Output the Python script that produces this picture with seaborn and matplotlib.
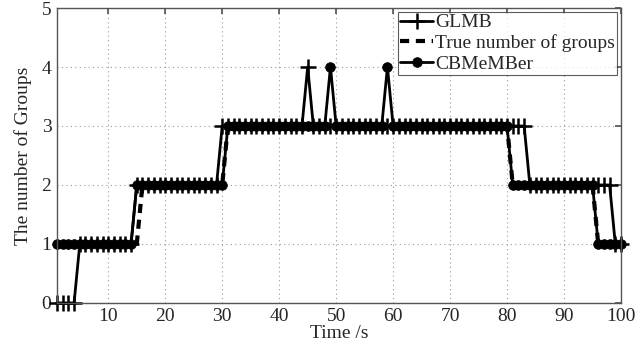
import numpy as np
import pandas as pd
import matplotlib
matplotlib.use("Agg")
import matplotlib.pyplot as plt
import seaborn as sns

# Data
time = list(range(1, 101))

glmb = [0, 0, 0, 0,
        1, 1, 1, 1, 1, 1, 1, 1, 1, 1,
        2, 2, 2, 2, 2, 2, 2, 2, 2, 2, 2, 2, 2, 2, 2,
        3, 3, 3, 3, 3, 3, 3, 3, 3, 3, 3, 3, 3, 3, 3, 4, 3, 3, 3, 3,
        3, 3, 3, 3, 3, 3, 3, 3, 3, 3, 3, 3, 3, 3, 3, 3, 3, 3, 3, 3,
        3, 3, 3, 3, 3, 3, 3, 3, 3, 3, 3, 3, 3, 3,
        2, 2, 2, 2, 2, 2, 2, 2, 2, 2, 2, 2, 2, 2, 2,
        1, 1]

true_groups = [1, 1, 1, 1, 1, 1, 1, 1, 1, 1, 1, 1, 1, 1, 1,
               2, 2, 2, 2, 2, 2, 2, 2, 2, 2, 2, 2, 2, 2, 2,
               3, 3, 3, 3, 3, 3, 3, 3, 3, 3, 3, 3, 3, 3, 3, 3, 3, 3, 3, 3,
               3, 3, 3, 3, 3, 3, 3, 3, 3, 3, 3, 3, 3, 3, 3, 3, 3, 3, 3, 3,
               3, 3, 3, 3, 3, 3, 3, 3, 3, 3,
               2, 2, 2, 2, 2, 2, 2, 2, 2, 2, 2, 2, 2, 2, 2,
               1, 1, 1, 1, 1]

cbmember = [1, 1, 1, 1, 1, 1, 1, 1, 1, 1, 1, 1, 1, 1,
            2, 2, 2, 2, 2, 2, 2, 2, 2, 2, 2, 2, 2, 2, 2, 2,
            3, 3, 3, 3, 3, 3, 3, 3, 3, 3, 3, 3, 3, 3, 3, 3, 3, 3, 4, 3,
            3, 3, 3, 3, 3, 3, 3, 3, 4, 3, 3, 3, 3, 3, 3, 3, 3, 3, 3, 3,
            3, 3, 3, 3, 3, 3, 3, 3, 3, 3,
            2, 2, 2, 2, 2, 2, 2, 2, 2, 2, 2, 2, 2, 2, 2,
            1, 1, 1, 1, 1]

x_ticks = [10, 20, 30, 40, 50, 60, 70, 80, 90, 100]
y_ticks = [0, 1, 2, 3, 4, 5]

sns.set_theme(style="white")
plt.rcParams['font.family'] = ['Liberation Serif', 'DejaVu Serif']

df = pd.DataFrame({"time": time, "GLMB": glmb, "True": true_groups, "CBMeMBer": cbmember})

fig = plt.figure(figsize=(6.44, 3.49), dpi=100)
ax = fig.add_axes([0.0885, 0.132, 0.8758, 0.845])

sns.lineplot(data=df, x="time", y="GLMB", ax=ax, color="black", linewidth=2,
             marker="+", markersize=11, markeredgewidth=1.8,
             markeredgecolor="black", label="GLMB", clip_on=False)
sns.lineplot(data=df, x="time", y="True", ax=ax, color="black", linewidth=3,
             linestyle=(0, (2.2, 1.6)), label="True number of groups", clip_on=False)
sns.lineplot(data=df, x="time", y="CBMeMBer", ax=ax, color="black", linewidth=2,
             marker="o", markersize=7, markeredgewidth=0.5,
             markeredgecolor="black", markerfacecolor="black", label="CBMeMBer",
             clip_on=False)

ax.set_xlim(1, 100)
ax.set_ylim(0, 5)
ax.set_xticks(x_ticks)
ax.set_yticks(y_ticks)
ax.grid(True, linestyle=(0, (1, 3)), color="#999999", linewidth=0.8)
ax.tick_params(direction="in", length=4, top=True, right=True, labelsize=14,
               color="#555555", pad=4)
for s in ax.spines.values():
    s.set_color("#555555")
    s.set_linewidth(1.0)

ax.set_xlabel("Time /s", fontsize=14, labelpad=0)
ax.set_ylabel("The number of Groups", fontsize=14, labelpad=7)

leg = ax.legend(loc="upper right", fontsize=14, handlelength=1.7, handletextpad=0.1,
                borderpad=0.1, labelspacing=0.15, borderaxespad=0.2,
                frameon=True, fancybox=False, edgecolor="#333333")
leg.get_frame().set_linewidth(0.8)
leg.set_zorder(5)

fig.savefig("out.png", dpi=100)
